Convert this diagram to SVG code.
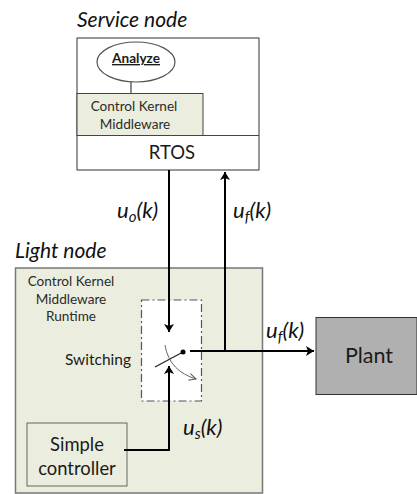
<svg xmlns="http://www.w3.org/2000/svg" width="417" height="494" viewBox="0 0 417 494">
<style>
text{font-family:Lato,"Open Sans","Liberation Sans",sans-serif;fill:#1a1a1a;text-anchor:middle}
.t{font-size:13.6px;fill:#2b2b2b}
.h{font-size:21px;font-style:italic;text-anchor:start;fill:#111}
.m{font-size:22px;font-style:italic;text-anchor:start;fill:#111}
.c{fill:none;stroke:#000;stroke-width:2}
</style>
<defs>
<marker id="a" markerUnits="userSpaceOnUse" markerWidth="9" markerHeight="10" refX="8" refY="5" orient="auto"><path d="M0 0L8 5L0 10L2 5Z" fill="#000"/></marker>
<marker id="g" markerUnits="userSpaceOnUse" markerWidth="9" markerHeight="8" refX="8" refY="4" orient="auto"><path d="M1 0.5L8 4L1 7.5" fill="none" stroke="#555" stroke-width="1"/></marker>
</defs>
<rect width="417" height="494" fill="#fff"/>
<text class="h" x="77" y="27">Service node</text>
<g id="service-node">
<rect x="77" y="38" width="182" height="132" fill="#fff" stroke="#333" stroke-width="1"/>
<line x1="131" y1="82" x2="131" y2="93" stroke="#666" stroke-width="1.5"/>
<g id="analyze"><ellipse cx="136" cy="62" rx="39" ry="20" fill="#fff" stroke="#555" stroke-width="1.2"/>
<text x="136" y="63" font-size="13.600" font-weight="700" text-decoration="underline">Analyze</text></g>
<g id="control-kernel"><rect x="77" y="93.500" width="126" height="42" fill="#ebeede" stroke="#444" stroke-width="1"/>
<text class="t" x="134" y="111">Control Kernel</text><text class="t" x="135" y="129">Middleware</text></g>
<g id="rtos"><line x1="77" y1="135.500" x2="259" y2="135.500" stroke="#444"/><text x="172" y="159" font-size="18.500">RTOS</text></g>
</g>
<text class="h" x="15" y="258">Light node</text>
<g id="light-node">
<rect x="15.500" y="268" width="247" height="225" fill="#ebeede" stroke="#777" stroke-width="1.5"/>
<text class="t" x="71" y="286">Control Kernel</text><text class="t" x="71" y="304">Middleware</text><text class="t" x="71" y="321">Runtime</text>
</g>
<g id="switching">
<rect x="141.500" y="300" width="60" height="101" fill="#fff" stroke="#555" stroke-width="1.200" stroke-dasharray="8 3 2 3"/>
<text x="98" y="365" font-size="15.500" fill="#2b2b2b">Switching</text>
</g>
<g id="simple-controller">
<rect x="27" y="423" width="100" height="63" fill="#ebeede" stroke="#666" stroke-width="1"/>
<text x="77" y="451" font-size="18.400">Simple</text><text x="77" y="475" font-size="18.400">controller</text>
</g>
<g id="plant">
<rect x="316" y="317.500" width="101" height="77" fill="#b0b0b0" stroke="#333" stroke-width="1"/>
<text x="369" y="363" font-size="21.500">Plant</text>
</g>
<g id="connectors">
<line class="c" x1="169" y1="170" x2="169" y2="332" marker-end="url(#a)"/>
<line class="c" x1="225" y1="351" x2="225" y2="172" marker-end="url(#a)"/>
<line class="c" x1="190" y1="351" x2="314" y2="351" marker-end="url(#a)"/>
<path class="c" d="M124 450H169V366" marker-end="url(#a)"/>
<line x1="155" y1="367" x2="183" y2="352" stroke="#222" stroke-width="1.200"/>
<circle cx="183" cy="352" r="2.500" fill="#000"/>
<path d="M165 345C168 364 180 374 196 379" fill="none" stroke="#666" stroke-width="1" marker-end="url(#g)"/>
</g>
<g id="labels">
<text class="m" x="117" y="218">u<tspan font-size="15" dy="4">o</tspan><tspan dy="-4">(k)</tspan></text>
<text class="m" x="233" y="218">u<tspan font-size="15" dy="4">f</tspan><tspan dy="-4">(k)</tspan></text>
<text class="m" x="266" y="338">u<tspan font-size="15" dy="4">f</tspan><tspan dy="-4">(k)</tspan></text>
<text class="m" x="183" y="435">u<tspan font-size="15" dy="4">s</tspan><tspan dy="-4">(k)</tspan></text>
</g>
</svg>
